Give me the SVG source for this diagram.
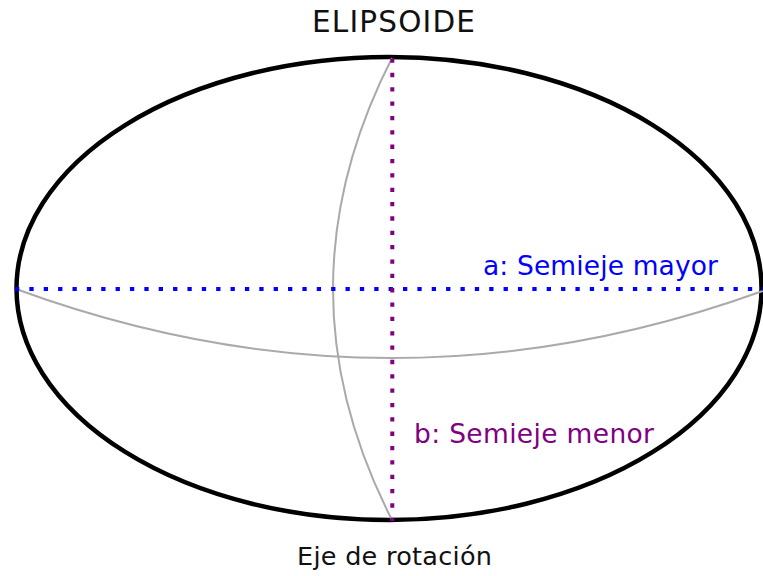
<svg xmlns="http://www.w3.org/2000/svg" width="763" height="576" viewBox="0 0 763 576">
  <style>
    .lbl { font-family: "DejaVu Sans", Verdana, sans-serif; }
    .guide { fill: none; stroke: #aaaaaa; stroke-width: 2; }
  </style>
  <rect width="763" height="576" fill="#ffffff"/>
  <g id="title">
    <text class="lbl" x="312" y="32" font-size="29.5" fill="#111111" textLength="163" lengthAdjust="spacing">ELIPSOIDE</text>
  </g>
  <g id="ellipsoid">
    <ellipse cx="389" cy="288.5" rx="372.5" ry="231.5" fill="none" stroke="#000000" stroke-width="4.5"/>
    <path class="guide" d="M 392 58 Q 274 289 392 520"/>
    <path class="guide" d="M 16 289 Q 392 427 768 289"/>
  </g>
  <g id="connectors">
    <line x1="15" y1="289" x2="763" y2="289" stroke="#0000ff" stroke-width="4" stroke-dasharray="4.3 10.07"/>
    <line x1="392.3" y1="58.5" x2="392.3" y2="521" stroke="#800080" stroke-width="4" stroke-dasharray="4.3 10.05"/>
  </g>
  <g id="semieje-mayor">
    <text class="lbl" x="483" y="275" font-size="26.5" fill="#0000ff" textLength="235" lengthAdjust="spacing">a: Semieje mayor</text>
  </g>
  <g id="semieje-menor">
    <text class="lbl" x="414" y="443" font-size="26.5" fill="#800080" textLength="240" lengthAdjust="spacing">b: Semieje menor</text>
  </g>
  <g id="eje-rotacion">
    <text class="lbl" x="297" y="565" font-size="25.5" fill="#111111" textLength="195" lengthAdjust="spacing">Eje de rotación</text>
  </g>
</svg>
